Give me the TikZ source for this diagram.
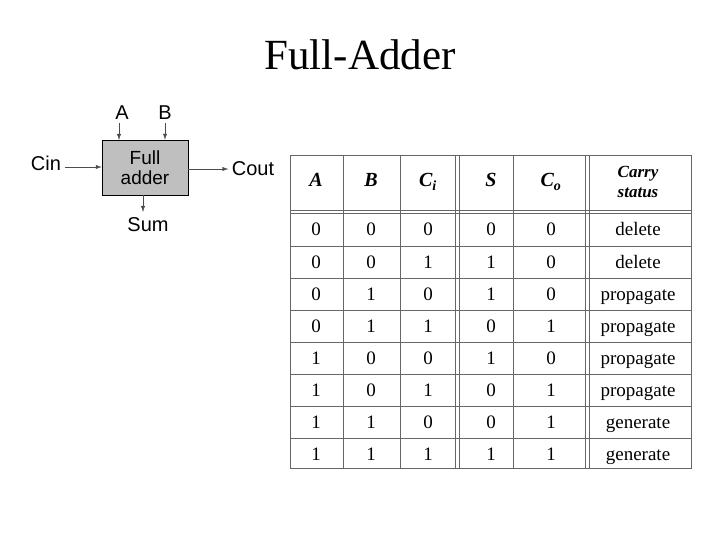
\documentclass[tikz,border=0pt]{standalone}
\usepackage{fontspec}
\setmainfont{Liberation Serif}
\setsansfont{Liberation Sans}
\usetikzlibrary{arrows.meta}
\begin{document}
\begin{tikzpicture}[x=1pt,y=-1pt,
   sig/.style={font=\sffamily\fontsize{20}{20}\selectfont},
   wire/.style={draw=black!70,-{Latex[length=6pt,width=4pt]}},
   cell/.style={font=\fontsize{19}{19}\selectfont,text height=13pt,text depth=1pt},
   head/.style={font=\bfseries\itshape\fontsize{20}{20}\selectfont,text height=13pt,text depth=3pt},
   grid/.style={draw=black!60,line width=0.6pt}]
   \useasboundingbox (0,0) rectangle (720,540);
   \node[](title) at (360,55) {\fontsize{43}{43}\selectfont Full-Adder};

   % block
   \node[draw,fill=black!25,minimum width=86pt,minimum height=55pt,
     align=center,font=\sffamily\fontsize{19}{20}\selectfont,inner sep=0pt](fa) at (145,167.5) {Full\\adder};
   \node[sig](a) at (122,113) {A};
   \node[sig](b) at (165,113) {B};
   \node[sig](cin) at (46,163) {Cin};
   \node[sig](cout) at (253,169) {Cout};
   \node[sig](sum) at (148,225) {Sum};
   \draw[wire](a.south -| 119,0) to (119,140);
   \draw[wire](b) to (b |- fa.north);
   \draw[wire](cin.east |- 0,167) to (fa.west |- 0,167);
   \draw[wire](fa.east |- 0,169) to (cout.west |- 0,169);
   \draw[wire](143,195) to (143,212);

   % table
   \draw[grid] (290,155) rectangle (691,468);
   \draw[grid] (290,210) -- (691,210) (290,213) -- (691,213);
   \foreach \y in {246,278,310,342,374,406,438}
     \draw[grid] (290,\y) -- (691,\y);
   \foreach \x in {343,400,513}
     \draw[grid] (\x,155) -- (\x,468);
   \foreach \x in {455,585}
     \draw[grid] (\x,155) -- (\x,468) (\x+4,155) -- (\x+4,468);
   \node[head](hA) at (316,182) {A};
   \node[head](hB) at (371,182) {B};
   \node[head](hCi) at (428,182) {C\textsubscript{\textit{i}}};
   \node[head](hS) at (491,182) {S};
   \node[head](hCo) at (551,182) {C\textsubscript{\textit{o}}};
   \node[align=center,font=\bfseries\itshape\fontsize{17}{20}\selectfont](hst) at (638,182) {Carry\\status};
   \foreach \a/\b/\c/\s/\o/\st [count=\i] in {
       0/0/0/0/0/delete, 0/0/1/1/0/delete,
       0/1/0/1/0/propagate, 0/1/1/0/1/propagate,
       1/0/0/1/0/propagate, 1/0/1/0/1/propagate,
       1/1/0/0/1/generate, 1/1/1/1/1/generate}{
     \pgfmathsetmacro{\ry}{230+32*(\i-1)}
     \node[cell](a\i) at (316,\ry) {\a};
     \node[cell](b\i) at (371,\ry) {\b};
     \node[cell](c\i) at (428,\ry) {\c};
     \node[cell](s\i) at (491,\ry) {\s};
     \node[cell](o\i) at (551,\ry) {\o};
     \node[cell](st\i) at (638,\ry) {\st};
   }
\end{tikzpicture}
\end{document}
